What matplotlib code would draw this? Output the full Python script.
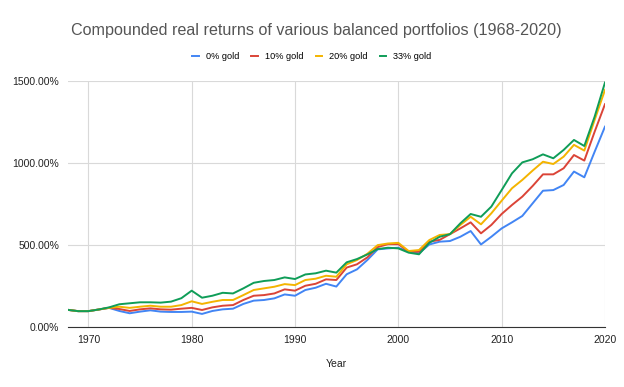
import matplotlib.pyplot as plt
from matplotlib.ticker import FuncFormatter

plt.rcParams['font.family'] = ['Liberation Sans', 'DejaVu Sans']

years = list(range(1968, 2021))

gold0 = [103, 95, 95, 105, 115, 96, 82, 92, 100, 92, 90, 90, 92,
         78, 96, 106, 110, 139, 159, 163, 173, 197, 189, 224, 238, 262,
         245, 320, 350, 407, 472, 478, 482, 458, 448, 502, 519, 523, 549,
         584, 502, 549, 600, 637, 676, 753, 830, 834, 865, 947, 912, 1068, 1221]
gold10 = [103, 95, 95, 105, 115, 108, 96, 106, 112, 106, 104, 110, 115,
          102, 118, 128, 132, 163, 189, 193, 203, 228, 220, 250, 262, 289,
          285, 361, 381, 423, 486, 504, 504, 458, 458, 519, 530, 565, 600,
          637, 570, 621, 688, 743, 794, 859, 930, 930, 967, 1048, 1014, 1190, 1358]
gold20 = [103, 95, 95, 105, 115, 122, 115, 122, 128, 122, 122, 132, 155,
          139, 152, 163, 163, 193, 224, 234, 244, 260, 254, 285, 293, 311,
          305, 381, 407, 445, 498, 508, 512, 462, 468, 529, 560, 565, 621,
          671, 625, 692, 769, 845, 896, 953, 1007, 993, 1038, 1110, 1075, 1262, 1445]
gold33 = [103, 95, 95, 105, 118, 137, 143, 149, 149, 147, 153, 174, 220,
          177, 189, 207, 203, 234, 268, 279, 285, 301, 291, 319, 326, 342,
          330, 393, 413, 441, 474, 482, 478, 452, 442, 512, 549, 565, 631,
          688, 671, 733, 834, 936, 1003, 1022, 1052, 1028, 1079, 1140, 1103, 1282, 1490]

series = [("0% gold", gold0, "#4285F4"),
          ("10% gold", gold10, "#DB4437"),
          ("20% gold", gold20, "#F4B400"),
          ("33% gold", gold33, "#0F9D58")]

fig = plt.figure(figsize=(6.24, 3.87), dpi=100)
ax = fig.add_axes([0.1085, 0.1558, 0.861, 0.635])

for name, vals, col in series:
    ax.plot(years, vals, color=col, lw=1.4, label=name)

ax.set_xlim(1968, 2020)
ax.set_ylim(0, 1500)
ax.set_xticks([1970, 1980, 1990, 2000, 2010, 2020])
ax.set_yticks([0, 500, 1000, 1500])
ax.yaxis.set_major_formatter(FuncFormatter(lambda v, p: "%.2f%%" % v))
ax.grid(True, color="#d9d9d9", lw=0.8)
ax.set_axisbelow(True)
for s in ["top", "right", "left"]:
    ax.spines[s].set_visible(False)
ax.spines["bottom"].set_color("#333333")
ax.tick_params(length=0, labelsize=7.5, colors="#222222", pad=6)
ax.set_xlabel("Year", fontsize=7.5, color="#222222", labelpad=10)

fig.suptitle("Compounded real returns of various balanced portfolios (1968-2020)",
             x=0.507, y=0.94, fontsize=11.6, color="#555555")
fig.legend(loc="center", bbox_to_anchor=(0.5, 0.853), ncol=4, frameon=False,
           fontsize=6.6, handlelength=0.7, handletextpad=0.8, columnspacing=1.3)

fig.savefig("out.png", dpi=100)
